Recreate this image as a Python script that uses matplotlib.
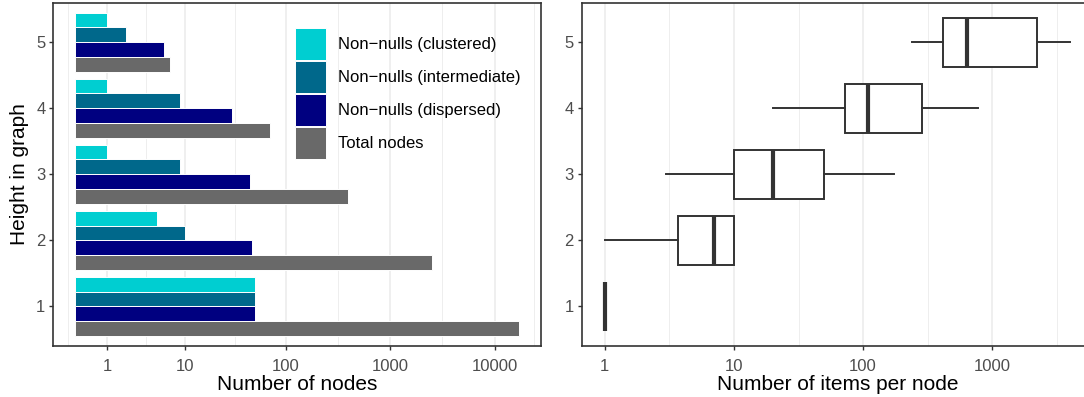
import numpy as np
import matplotlib
matplotlib.use("Agg")
import matplotlib.pyplot as plt

plt.rcParams['font.family'] = ['Liberation Sans', 'DejaVu Sans']

# node counts per height
heights = [1, 2, 3, 4, 5]
clustered = [50, 5, 1, 1, 1]
intermediate = [50, 10, 9, 9, 2]
dispersed = [50, 47, 45, 30, 6]
total = [17000, 2500, 400, 70, 7]

series_labels = ["Non\u2212nulls (clustered)", "Non\u2212nulls (intermediate)",
                 "Non\u2212nulls (dispersed)", "Total nodes"]
series_colors = ["#00CED1", "#00688B", "#000080", "#696969"]

# items per node (box stats per height)
box_low = [1, 1, 3, 20, 240]
box_q1 = [1, 3.7, 10, 73, 417]
box_med = [1, 7, 20, 109, 634]
box_q3 = [1, 10, 50, 288, 2208]
box_high = [1, 10, 174, 782, 4000]

dark = "#333333"
tick_col = "#4D4D4D"
grid_col = "#EBEBEB"


def minor_breaks(major_t, lim_t):
    # midpoints between major breaks, extended one step past the ends
    b = list(major_t)
    bd = b[1] - b[0]
    if lim_t[0] < b[0]:
        b = [b[0] - bd] + b
    if lim_t[1] > b[-1]:
        b = b + [b[-1] + bd]
    mids = [(b[i] + b[i + 1]) / 2 for i in range(len(b) - 1)]
    return [m for m in mids if lim_t[0] <= m <= lim_t[1]]


def style_axes(ax):
    for s in ax.spines.values():
        s.set_color(dark)
        s.set_linewidth(1.2)
    ax.tick_params(which='major', color=dark, width=1.0, length=3.2,
                   labelsize=12, labelcolor=tick_col, pad=2.5)
    ax.tick_params(axis='x', which='major', pad=6.5)
    ax.tick_params(which='minor', length=0)
    ax.grid(axis='x', which='major', color=grid_col, linewidth=1.1)
    ax.grid(axis='x', which='minor', color=grid_col, linewidth=0.6)
    ax.set_axisbelow(True)
    ax.set_ylim(0.4, 5.6)
    ax.set_yticks(heights)


fig = plt.figure(figsize=(10.84, 3.97), dpi=100)
ax1 = fig.add_axes([0.04917, 0.12846, 0.45009, 0.86474])
ax2 = fig.add_axes([0.53644, 0.12846, 0.47214, 0.86474])

# left: grouped bars on a log10(x + 1) axis
fwd = lambda x: np.log10(np.clip(x, -0.999, None) + 1)
inv = lambda t: 10 ** t - 1
ax1.set_xscale('function', functions=(fwd, inv))

bar_h = 0.225
offsets = [1.5 * bar_h, 0.5 * bar_h, -0.5 * bar_h, -1.5 * bar_h]
y = np.array(heights, dtype=float)
handles = []
for vals, off, col, lab in zip([clustered, intermediate, dispersed, total],
                               offsets, series_colors, series_labels):
    b = ax1.barh(y + off, vals, height=bar_h, color=col, edgecolor='white',
                 linewidth=0.7, label=lab)
    handles.append(b)

tmax = np.log10(max(total) + 1)
lim_t = (-0.05 * tmax, 1.05 * tmax)
ax1.set_xlim(inv(lim_t[0]), inv(lim_t[1]))
major1 = [1, 10, 100, 1000, 10000]
ax1.set_xticks(major1)
ax1.set_xticklabels([str(v) for v in major1])
ax1.set_xticks([inv(m) for m in minor_breaks(list(fwd(np.array(major1, float))), lim_t)],
               minor=True)
style_axes(ax1)
ax1.set_xlabel("Number of nodes", fontsize=15, labelpad=0.5)
ax1.set_ylabel("Height in graph", fontsize=15, labelpad=5)

fig.legend(handles=handles, labels=series_labels, loc='upper left',
           bbox_to_anchor=(294.6 / 1084, 1 - 28 / 397), frameon=False,
           fontsize=12, handlelength=1.86, handleheight=2.58,
           labelspacing=0.06, handletextpad=0.74, borderpad=0,
           borderaxespad=0)

# right: boxplots of items per node, log10 axis
stats = []
for lo, q1, med, q3, hi in zip(box_low, box_q1, box_med, box_q3, box_high):
    stats.append(dict(whislo=lo, q1=q1, med=med, q3=q3, whishi=hi, fliers=[]))
line_kw = dict(color=dark, linewidth=1.4)
ax2.bxp(stats, positions=heights, widths=0.75, orientation='horizontal',
        showcaps=False, showfliers=False, patch_artist=True,
        boxprops=dict(facecolor='white', edgecolor=dark, linewidth=1.4),
        whiskerprops=line_kw, medianprops=dict(color=dark, linewidth=3.0))
ax2.set_xscale('log')
tmax2 = np.log10(max(box_high))
tmin2 = np.log10(min(box_low))
span = tmax2 - tmin2
lim2 = (tmin2 - 0.05 * span, tmax2 + 0.05 * span)
ax2.set_xlim(10 ** lim2[0], 10 ** lim2[1])
major2 = [1, 10, 100, 1000]
ax2.set_xticks(major2)
ax2.set_xticklabels([str(v) for v in major2])
ax2.set_xticks([10 ** m for m in minor_breaks(list(np.log10(major2)), lim2)],
               minor=True)
ax2.xaxis.set_minor_formatter(matplotlib.ticker.NullFormatter())
style_axes(ax2)
ax2.set_yticklabels([str(h) for h in heights])
ax2.set_xlabel("Number of items per node", fontsize=15, labelpad=0.5)

fig.savefig("out.png", dpi=100)
